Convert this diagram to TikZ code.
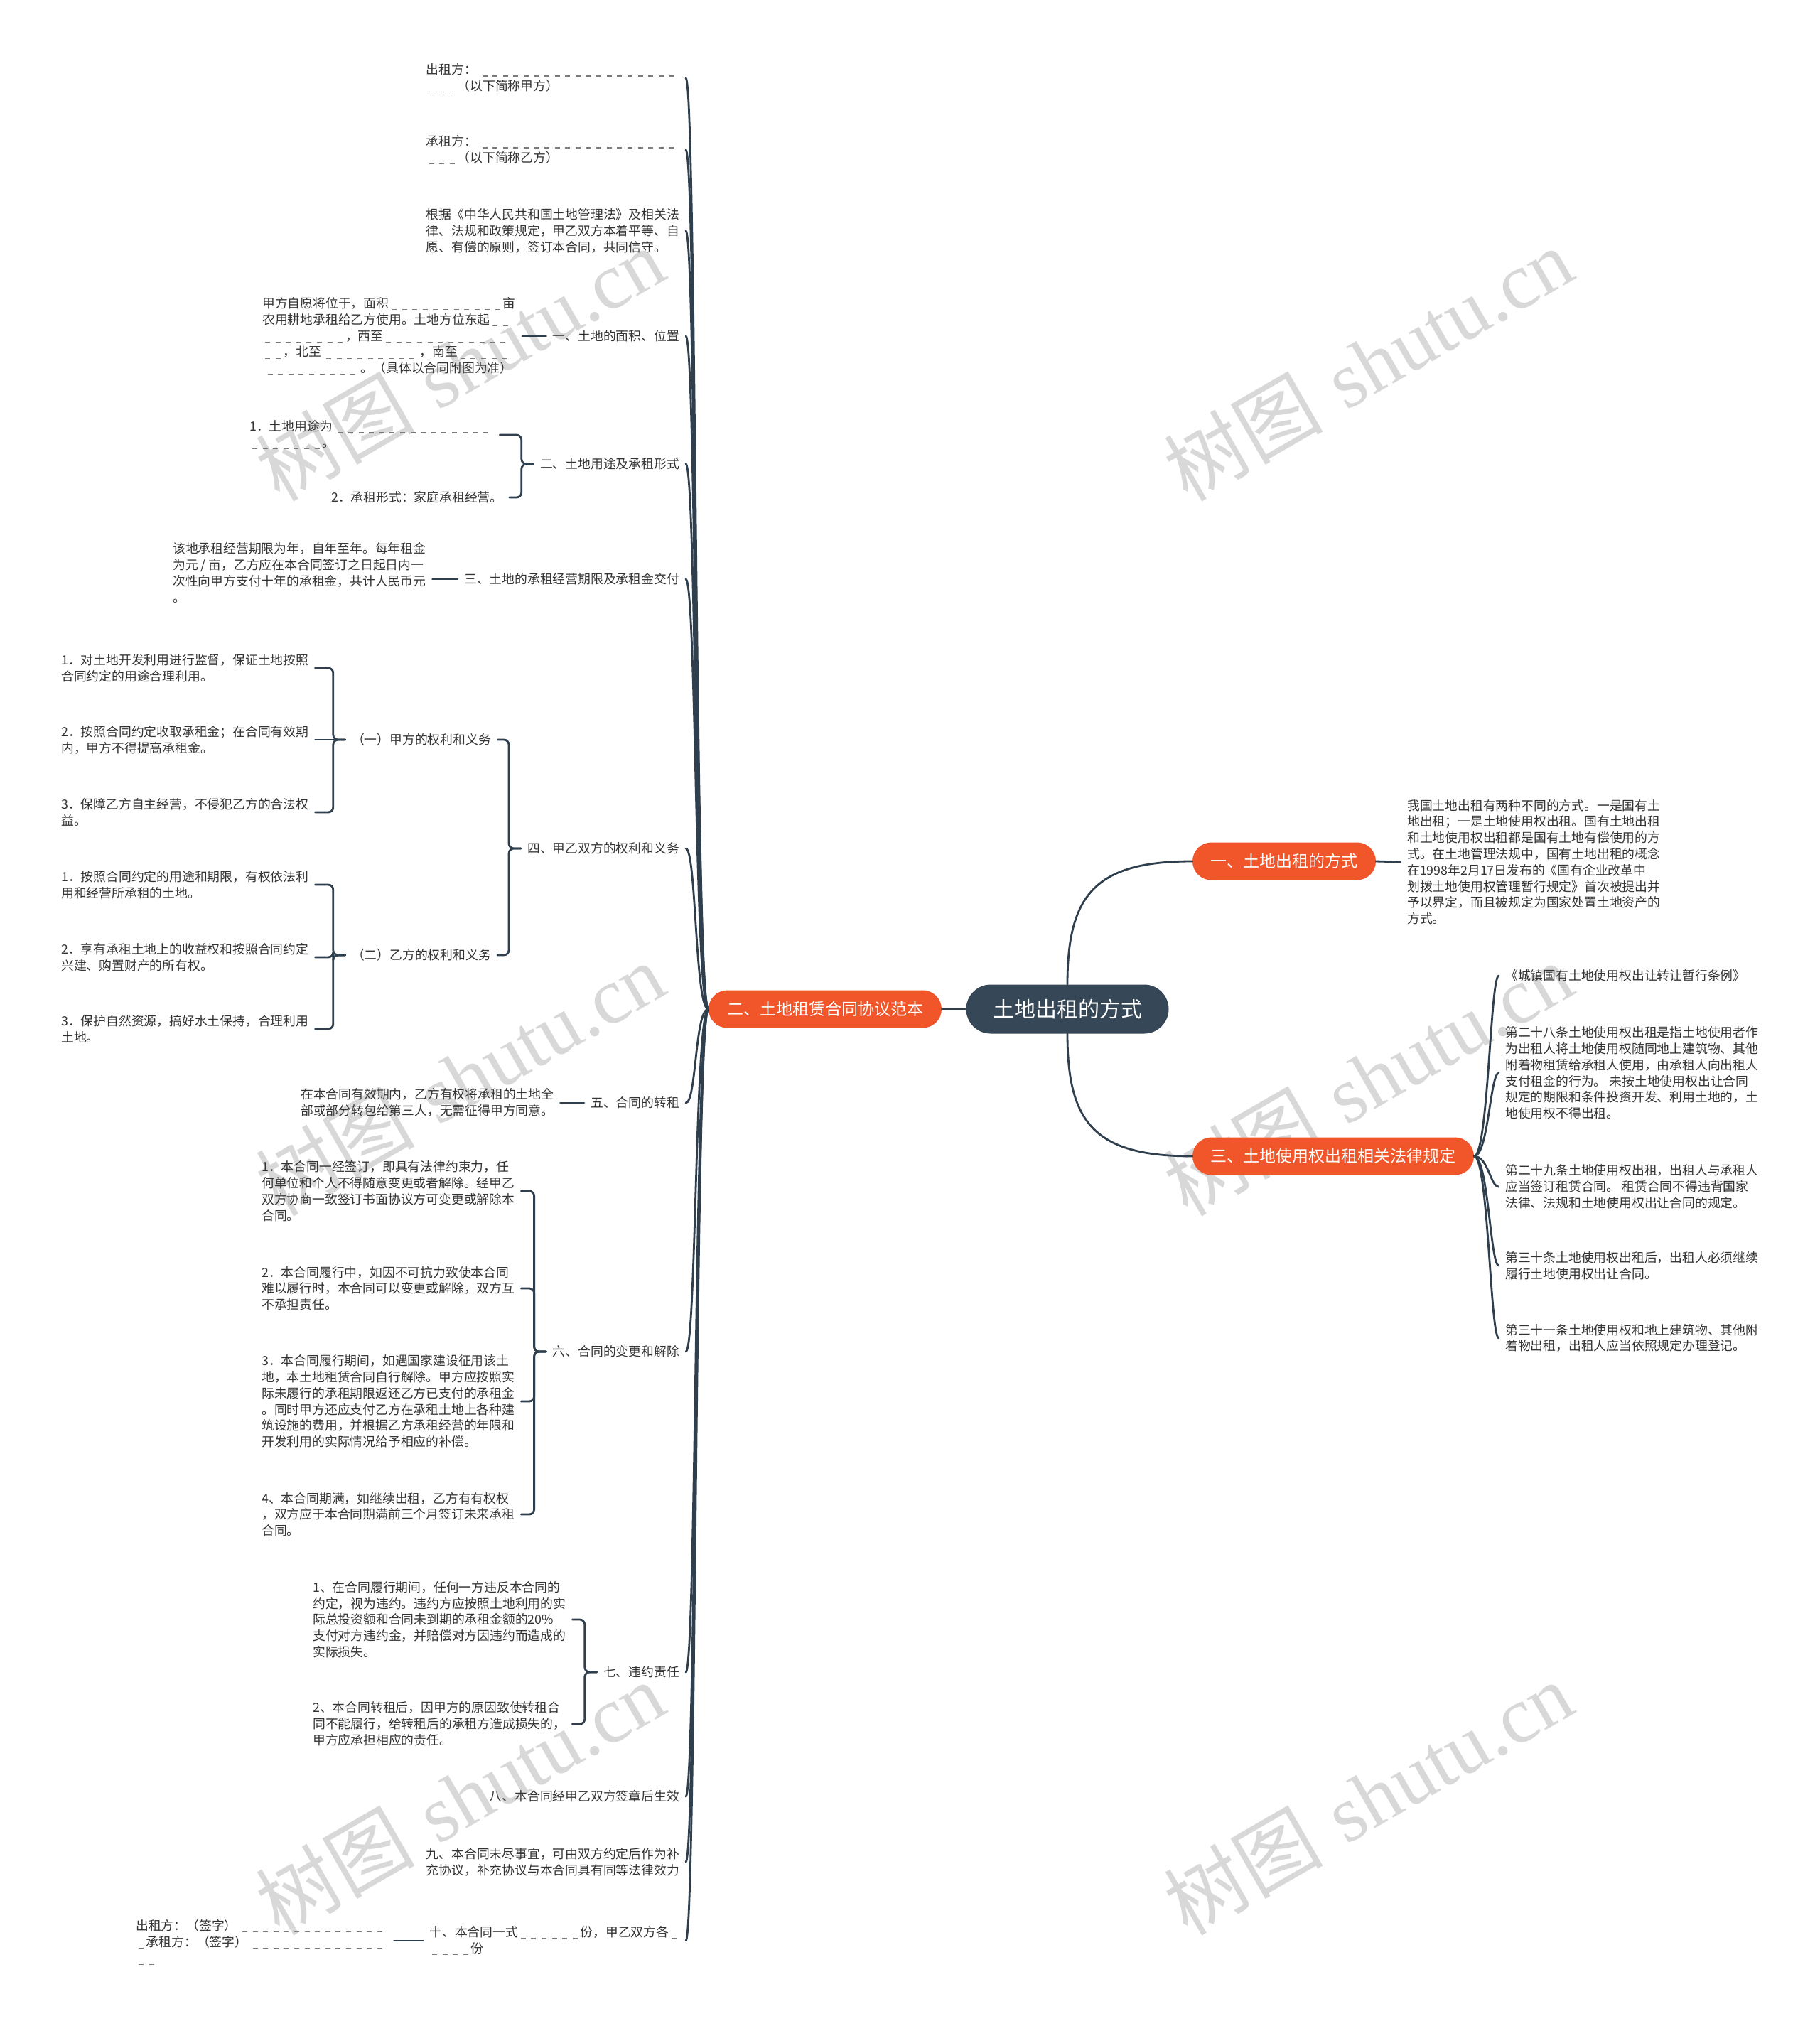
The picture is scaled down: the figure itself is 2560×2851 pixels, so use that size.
\documentclass[tikz,border=0pt]{standalone}
\usepackage{fontspec}
\newfontfamily\cjk{Noto Sans CJK SC}
\newfontfamily\wmser{Liberation Serif}
\usetikzlibrary{calc}
\definecolor{txt}{HTML}{333333}
\definecolor{lnc}{HTML}{2F3F4E}
\definecolor{rootc}{HTML}{364857}
\definecolor{orng}{HTML}{F1562A}
\definecolor{dgray}{HTML}{7A7A7A}
\definecolor{wmc}{HTML}{D8D8D8}
\newdimen\dper \dper=14.6pt
\newcommand\dd[1]{\leavevmode\hbox to #1\dper{\cleaders\hbox to \dper{\hss\textcolor{dgray}{\rule[-3pt]{7pt}{1.2pt}}\hss}\hfill}}
\tikzset{
  tx/.style={font=\cjk\fontsize{17.8}{22.8}\selectfont, text=txt, align=left, inner xsep=9pt, inner ysep=2pt},
  pill/.style={font=\cjk\fontsize{23}{27}\selectfont, text=white, fill=orng, inner sep=0pt, minimum height=53pt, rounded corners=26.5pt},
  rootbox/.style={font=\cjk\fontsize{30}{36}\selectfont, text=white, fill=rootc, inner sep=0pt, minimum width=285pt, minimum height=69pt, rounded corners=34.5pt},
  conn/.style={draw=lnc, line width=2.8pt, line cap=round},
  brk/.style={conn, rounded corners=7pt},
  wm/.style={text=wmc, rotate=30, inner sep=0pt, font=\fontsize{112}{120}\selectfont}
}
\newcommand\lcurve[1]{\draw[conn] (L.west) .. controls +(-19,0) and +(15,0) .. (#1.east);}
\newcommand\rcurve[1]{\draw[conn] (R3.east) .. controls +(20,0) and +(-12,0) .. (#1.west);}
\newcommand\brL[2]{\draw[brk] (#1.west) -- ++(-17,0) |- (#2.east);}
\begin{document}
\begin{tikzpicture}[x=1pt,y=-1pt]
\useasboundingbox (0,0) rectangle (2560,2851);
\fill[white] (0,0) rectangle (2560,2851);
% watermarks
\node[wm] (wm1) at (647,512) {{\cjk 树图} {\wmser shutu.cn}};
\node[wm] (wm2) at (1925,512) {{\cjk 树图} {\wmser shutu.cn}};
\node[wm] (wm3) at (647,1518) {{\cjk 树图} {\wmser shutu.cn}};
\node[wm] (wm4) at (1925,1518) {{\cjk 树图} {\wmser shutu.cn}};
\node[wm] (wm5) at (647,2530) {{\cjk 树图} {\wmser shutu.cn}};
\node[wm] (wm6) at (1925,2530) {{\cjk 树图} {\wmser shutu.cn}};

% main nodes
\node[rootbox] (root) at (1502,1420) {土地出租的方式};
\node[pill, minimum width=328pt] (L) at (1161,1420) {二、土地租赁合同协议范本};
\node[pill, minimum width=258pt] (R1) at (1807,1212) {一、土地出租的方式};
\node[pill, minimum width=396pt] (R3) at (1876,1627) {三、土地使用权出租相关法律规定};

% right side texts
\node[tx, anchor=west] (r1c) at (1971,1213) {我国土地出租有两种不同的方式。一是国有土\\地出租；一是土地使用权出租。国有土地出租\\和土地使用权出租都是国有土地有偿使用的方\\式。在土地管理法规中，国有土地出租的概念\\在1998年2月17日发布的《国有企业改革中\\划拨土地使用权管理暂行规定》首次被提出并\\予以界定，而且被规定为国家处置土地资产的\\方式。};
\node[tx, anchor=west] (r3a) at (2109,1373) {《城镇国有土地使用权出让转让暂行条例》};
\node[tx, anchor=west] (r3b) at (2109,1510) {第二十八条土地使用权出租是指土地使用者作\\为出租人将土地使用权随同地上建筑物、其他\\附着物租赁给承租人使用，由承租人向出租人\\支付租金的行为。 未按土地使用权出让合同\\规定的期限和条件投资开发、利用土地的，土\\地使用权不得出租。};
\node[tx, anchor=west] (r3c) at (2109,1670) {第二十九条土地使用权出租，出租人与承租人\\应当签订租赁合同。 租赁合同不得违背国家\\法律、法规和土地使用权出让合同的规定。};
\node[tx, anchor=west] (r3d) at (2109,1781) {第三十条土地使用权出租后，出租人必须继续\\履行土地使用权出让合同。};
\node[tx, anchor=west] (r3e) at (2109,1883) {第三十一条土地使用权和地上建筑物、其他附\\着物出租，出租人应当依照规定办理登记。};

% left level 1
\node[tx, anchor=east] (c1) at (965,110) {出租方：\dd{19.5}\\\dd{3}（以下简称甲方）};
\node[tx, anchor=east] (c2) at (965,211) {承租方：\dd{19.5}\\\dd{3}（以下简称乙方）};
\node[tx, anchor=east] (c3) at (965,325) {根据《中华人民共和国土地管理法》及相关法\\律、法规和政策规定，甲乙双方本着平等、自\\愿、有偿的原则，签订本合同，共同信守。};
\node[tx, anchor=east] (c4) at (965,473) {一、土地的面积、位置};
\node[tx, anchor=east] (c5) at (965,653) {二、土地用途及承租形式};
\node[tx, anchor=east] (c6) at (965,815) {三、土地的承租经营期限及承租金交付};
\node[tx, anchor=east] (c7) at (965,1194) {四、甲乙双方的权利和义务};
\node[tx, anchor=east] (c8) at (965,1552) {五、合同的转租};
\node[tx, anchor=east] (c9) at (965,1902) {六、合同的变更和解除};
\node[tx, anchor=east] (c10) at (965,2353) {七、违约责任};
\node[tx, anchor=east] (c11) at (965,2528) {八、本合同经甲乙双方签章后生效};
\node[tx, anchor=east] (c12) at (965,2620) {九、本合同未尽事宜，可由双方约定后作为补\\充协议，补充协议与本合同具有同等法律效力};
\node[tx, anchor=east] (c13) at (965,2731) {十、本合同一式\dd{6}份，甲乙双方各\dd{1}\\\dd{4}份};

% left level 2+
\node[tx, anchor=west] (d4) at (360,473) {甲方自愿将位于，面积\dd{11}亩\\农用耕地承租给乙方使用。土地方位东起\dd{2}\\\dd{8}，西至\dd{12}\\\dd{2}，北至\dd{9.5}，南至\dd{5}\\\dd{9.5}。（具体以合同附图为准）};
\node[tx, anchor=west] (d5a) at (342,612) {1．土地用途为\dd{15.5}\\\dd{7}。};
\node[tx, anchor=west] (d5b) at (457,700) {2．承租形式：家庭承租经营。};
\node[tx, anchor=west] (d6) at (234,806) {该地承租经营期限为年，自年至年。每年租金\\为元 / 亩，乙方应在本合同签订之日起日内一\\次性向甲方支付十年的承租金，共计人民币元\\。};
\node[tx, anchor=east] (e1) at (700,1041) {（一）甲方的权利和义务};
\node[tx, anchor=east] (e2) at (700,1344) {（二）乙方的权利和义务};
\node[tx, anchor=west] (e1a) at (77,940) {1．对土地开发利用进行监督，保证土地按照\\合同约定的用途合理利用。};
\node[tx, anchor=west] (e1b) at (77,1041) {2．按照合同约定收取承租金；在合同有效期\\内，甲方不得提高承租金。};
\node[tx, anchor=west] (e1c) at (77,1143) {3．保障乙方自主经营，不侵犯乙方的合法权\\益。};
\node[tx, anchor=west] (e2a) at (77,1245) {1．按照合同约定的用途和期限，有权依法利\\用和经营所承租的土地。};
\node[tx, anchor=west] (e2b) at (77,1347) {2．享有承租土地上的收益权和按照合同约定\\兴建、购置财产的所有权。};
\node[tx, anchor=west] (e2c) at (77,1448) {3．保护自然资源，搞好水土保持，合理利用\\土地。};
\node[tx, anchor=west] (d8) at (414,1551) {在本合同有效期内，乙方有权将承租的土地全\\部或部分转包给第三人，无需征得甲方同意。};
\node[tx, anchor=west] (f1) at (359,1676) {1．本合同一经签订，即具有法律约束力，任\\何单位和个人不得随意变更或者解除。经甲乙\\双方协商一致签订书面协议方可变更或解除本\\合同。};
\node[tx, anchor=west] (f2) at (359,1813) {2．本合同履行中，如因不可抗力致使本合同\\难以履行时，本合同可以变更或解除，双方互\\不承担责任。};
\node[tx, anchor=west] (f3) at (359,1972) {3．本合同履行期间，如遇国家建设征用该土\\地，本土地租赁合同自行解除。甲方应按照实\\际未履行的承租期限返还乙方已支付的承租金\\。同时甲方还应支付乙方在承租土地上各种建\\筑设施的费用，并根据乙方承租经营的年限和\\开发利用的实际情况给予相应的补偿。};
\node[tx, anchor=west] (f4) at (359,2131) {4、本合同期满，如继续出租，乙方有有权权\\，双方应于本合同期满前三个月签订未来承租\\合同。};
\node[tx, anchor=west] (g1) at (431,2279) {1、在合同履行期间，任何一方违反本合同的\\约定，视为违约。违约方应按照土地利用的实\\际总投资额和合同未到期的承租金额的20\%\\支付对方违约金，并赔偿对方因违约而造成的\\实际损失。};
\node[tx, anchor=west] (g2) at (431,2426) {2、本合同转租后，因甲方的原因致使转租合\\同不能履行，给转租后的承租方造成损失的，\\甲方应承担相应的责任。};
\node[tx, anchor=west] (d13) at (182,2733) {出租方：（签字）\dd{14.5}\\\dd{1}承租方：（签字）\dd{13.5}\\\dd{2}};

% connectors: root
\draw[conn] (root.west) -- (L.east);
\draw[conn] (root.north) .. controls (1502,1260) and (1540,1212) .. (R1.west);
\draw[conn] (root.south) .. controls (1502,1580) and (1540,1627) .. (R3.west);
\draw[conn] (R1.east) -- (r1c.west);
\rcurve{r3a}\rcurve{r3b}\rcurve{r3c}\rcurve{r3d}\rcurve{r3e}
% left main
\lcurve{c1}\lcurve{c2}\lcurve{c3}\lcurve{c4}\lcurve{c5}\lcurve{c6}\lcurve{c7}
\lcurve{c8}\lcurve{c9}\lcurve{c10}\lcurve{c11}\lcurve{c12}\lcurve{c13}
% singles
\draw[conn] (c4.west) -- (d4.east);
\draw[conn] (c6.west) -- (c6.west -| d6.east);
\draw[conn] (c8.west) -- (c8.west -| d8.east);
\draw[conn] (c13.west) -- (c13.west -| d13.east);
% brackets
\brL{c5}{d5a}\brL{c5}{d5b}
\brL{c7}{e1}\brL{c7}{e2}
\brL{e1}{e1a}\brL{e1}{e1c}
\draw[conn] (e1.west) -- (e1b.east);
\brL{e2}{e2a}\brL{e2}{e2b}\brL{e2}{e2c}
\brL{c9}{f1}\brL{c9}{f2}\brL{c9}{f3}\brL{c9}{f4}
\brL{c10}{g1}\brL{c10}{g2}
\end{tikzpicture}
\end{document}
